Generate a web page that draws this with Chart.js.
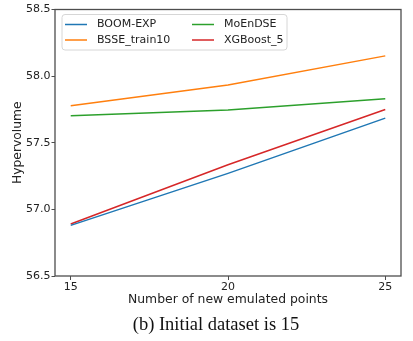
<!DOCTYPE html>
<html>
<head>
<meta charset="utf-8">
<script src="https://cdn.jsdelivr.net/npm/chart.js@4.4.1/dist/chart.umd.min.js"></script>
<style>
  html, body { margin: 0; padding: 0; background: #fff; }
  #wrap { position: relative; width: 413px; height: 341px; }
  #grafico { position: absolute; left: 0; top: 0; }
  #caption {
    position: absolute; left: 0; width: 432px; top: 314px;
    text-align: center; font-family: "Liberation Serif", "DejaVu Serif", serif;
    font-size: 18.5px; color: #111;
  }
</style>
</head>
<body>
<div id="wrap">
  <canvas id="grafico" width="413" height="341"></canvas>
  <div id="caption">(b) Initial dataset is 15</div>
</div>
<script>
const puntos = [15, 20, 25];
const xTicks = [15, 20, 25];
const yTicks = [56.5, 57.0, 57.5, 58.0, 58.5];

const boomExp = [56.88, 57.27, 57.685];
const bsseTrain10 = [57.777, 57.933, 58.152];
const moEnDse = [57.702, 57.745, 57.83];
const xgBoost5 = [56.89, 57.335, 57.75];

const series = [
  { label: "BOOM-EXP", data: boomExp, color: "#1f77b4" },
  { label: "BSSE_train10", data: bsseTrain10, color: "#ff7f0e" },
  { label: "MoEnDSE", data: moEnDse, color: "#2ca02c" },
  { label: "XGBoost_5", data: xgBoost5, color: "#d62728" }
];

const fuente = "'DejaVu Sans', sans-serif";
const ejeColor = "#4d4d4d";

// marco completo alrededor del area y leyenda en dos columnas
const marcoYLeyenda = {
  id: "marcoYLeyenda",
  afterDraw(chart) {
    const ctx = chart.ctx;
    const a = chart.chartArea;
    ctx.save();
    ctx.strokeStyle = ejeColor;
    ctx.lineWidth = 1.3;
    ctx.strokeRect(a.left, a.top, a.right - a.left, a.bottom - a.top);

    // caja de la leyenda
    const bx = 62, by = 14.5, bw = 225, bh = 35.5;
    ctx.beginPath();
    ctx.roundRect(bx, by, bw, bh, 3);
    ctx.fillStyle = "rgba(255,255,255,0.85)";
    ctx.fill();
    ctx.strokeStyle = "#d6d6d6";
    ctx.lineWidth = 1;
    ctx.stroke();

    const cols = [65, 192];
    const filas = [24.5, 40];
    ctx.font = "11px " + fuente;
    ctx.textBaseline = "middle";
    ctx.fillStyle = "#222";
    chart.data.datasets.forEach((ds, i) => {
      const x = cols[Math.floor(i / 2)];
      const y = filas[i % 2];
      ctx.beginPath();
      ctx.moveTo(x, y);
      ctx.lineTo(x + 22, y);
      ctx.strokeStyle = ds.borderColor;
      ctx.lineWidth = 1.5;
      ctx.stroke();
      ctx.fillText(ds.label, x + 32, y);
    });
    ctx.restore();
  }
};

new Chart(document.getElementById("grafico"), {
  type: "line",
  data: {
    datasets: series.map(s => ({
      label: s.label,
      data: puntos.map((p, i) => ({ x: p, y: s.data[i] })),
      borderColor: s.color,
      backgroundColor: s.color,
      borderWidth: 1.5,
      pointRadius: 0,
      tension: 0
    }))
  },
  options: {
    responsive: false,
    animation: false,
    layout: { padding: { top: 9.5, right: 12, left: 0, bottom: 29.8 } },
    plugins: {
      legend: { display: false },
      tooltip: { enabled: false }
    },
    scales: {
      x: {
        type: "linear",
        min: 14.5,
        max: 25.5,
        afterBuildTicks: (scale) => { scale.ticks = xTicks.map(v => ({ value: v })); },
        afterFit: (scale) => { scale.height = 35.2; },
        border: { display: false },
        grid: { drawOnChartArea: false, color: ejeColor, tickLength: 4, lineWidth: 1 },
        ticks: { padding: 1, color: "#222", font: { family: fuente, size: 11 } },
        title: {
          display: true,
          text: "Number of new emulated points",
          color: "#222",
          padding: { top: 0, bottom: 4 },
          font: { family: fuente, size: 12.4 }
        }
      },
      y: {
        min: 56.5,
        max: 58.5,
        afterBuildTicks: (scale) => { scale.ticks = yTicks.map(v => ({ value: v })); },
        afterFit: (scale) => { scale.width = 55; },
        border: { display: false },
        grid: { drawOnChartArea: false, color: ejeColor, tickLength: 3.5, lineWidth: 1 },
        ticks: {
          padding: 1,
          color: "#222",
          font: { family: fuente, size: 11 },
          callback: (v) => Number(v).toFixed(1)
        },
        title: {
          display: true,
          text: "Hypervolume",
          color: "#222",
          padding: { top: 10, bottom: 0 },
          font: { family: fuente, size: 12.3 }
        }
      }
    }
  },
  plugins: [marcoYLeyenda]
});
</script>
</body>
</html>
